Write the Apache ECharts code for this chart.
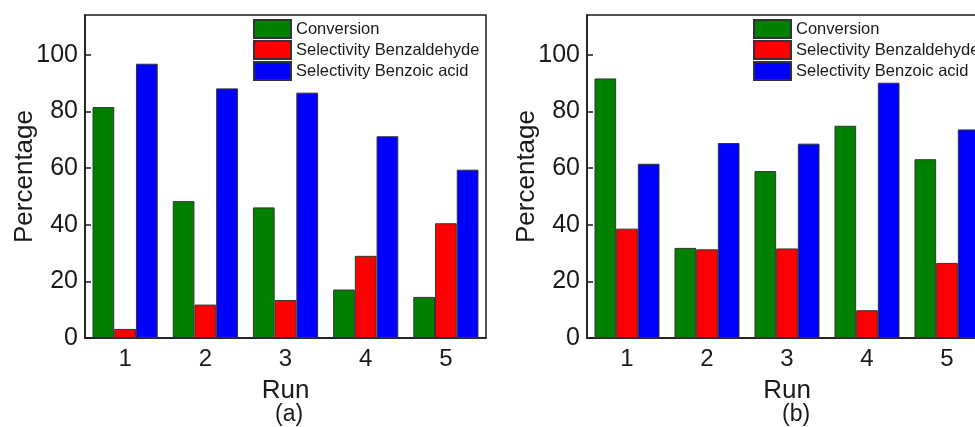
<!DOCTYPE html>
<html>
<head>
<meta charset="utf-8">
<script src="https://cdn.jsdelivr.net/npm/echarts@6/dist/echarts.min.js"></script>
<style>
  html, body { margin: 0; padding: 0; background: #fff; }
  #chart { width: 975px; height: 427px; }
</style>
</head>
<body>
<div id="chart"></div>
<script>
const runs = ['1', '2', '3', '4', '5']
const seriesNames = ['Conversion', 'Selectivity Benzaldehyde', 'Selectivity Benzoic acid']
const colors = ['#008000', '#ff0000', '#0000ff']

// panel (a)
const conversionA = [81.5, 48.3, 46.1, 17.1, 14.5]
const benzaldehydeA = [3.2, 11.8, 13.4, 29.0, 40.5]
const benzoicA = [96.8, 88.1, 86.6, 71.2, 59.4]

// panel (b)
const conversionB = [91.6, 31.8, 58.9, 74.9, 63.1]
const benzaldehydeB = [38.6, 31.3, 31.6, 9.8, 26.5]
const benzoicB = [61.5, 68.8, 68.6, 90.1, 73.6]

const font = '"Liberation Sans", Arial, sans-serif'
const ink = '#1a1a1a'

const chart = echarts.init(document.getElementById('chart'))

const makeX = (gridIndex) => ({
  type: 'category',
  gridIndex,
  data: runs,
  name: 'Run',
  nameLocation: 'middle',
  nameGap: 40,
  nameTextStyle: { fontSize: 26, color: ink, fontFamily: font },
  axisTick: { show: false },
  axisLine: { lineStyle: { color: ink, width: 1.5 } },
  axisLabel: { fontSize: 24, color: ink, fontFamily: font, margin: 9 }
})

const makeY = (gridIndex) => ({
  type: 'value',
  gridIndex,
  min: 0,
  max: 114,
  interval: 20,
  name: 'Percentage',
  nameLocation: 'middle',
  nameGap: 47,
  nameMoveOverlap: false,
  nameTextStyle: { fontSize: 26, color: ink, fontFamily: font },
  splitLine: { show: false },
  axisLine: { show: true, lineStyle: { color: ink, width: 1.5 } },
  axisTick: { show: true, inside: true, length: 6, lineStyle: { color: ink, width: 1.5 } },
  axisLabel: { fontSize: 25, color: ink, fontFamily: font, margin: 7, showMaxLabel: false }
})

const makeBars = (values, idx) => values.map((data, i) => ({
  name: seriesNames[i],
  type: 'bar',
  xAxisIndex: idx,
  yAxisIndex: idx,
  data,
  barGap: '0%',
  barCategoryGap: '18.75%',
  itemStyle: { color: colors[i], borderColor: '#333', borderWidth: 1 }
}))

const makeLegend = (left) => ({
  orient: 'vertical',
  left,
  top: 19,
  padding: 0,
  itemWidth: 37,
  itemHeight: 18,
  itemGap: 1,
  icon: 'rect',
  selectedMode: false,
  data: seriesNames,
  textStyle: { fontSize: 16.5, lineHeight: 18, color: ink, fontFamily: font }
})

chart.setOption({
  animation: false,
  color: colors,
  title: [
    { text: '(a)', left: 275, top: 403, padding: 0, textStyle: { fontSize: 23, fontWeight: 'normal', color: ink, fontFamily: font } },
    { text: '(b)', left: 782, top: 403, padding: 0, textStyle: { fontSize: 23, fontWeight: 'normal', color: ink, fontFamily: font } }
  ],
  legend: [
    Object.assign(makeLegend(253), { id: 'la' }),
    Object.assign(makeLegend(753), { id: 'lb' })
  ],
  grid: [
    { left: 85, top: 15, width: 401, height: 323, outerBoundsMode: 'none', show: true, borderColor: ink, borderWidth: 1.5 },
    { left: 587, top: 15, width: 400, height: 323, outerBoundsMode: 'none', show: true, borderColor: ink, borderWidth: 1.5 }
  ],
  xAxis: [makeX(0), makeX(1)],
  yAxis: [makeY(0), makeY(1)],
  series: [
    ...makeBars([conversionA, benzaldehydeA, benzoicA], 0),
    ...makeBars([conversionB, benzaldehydeB, benzoicB], 1)
  ]
})
</script>
</body>
</html>
